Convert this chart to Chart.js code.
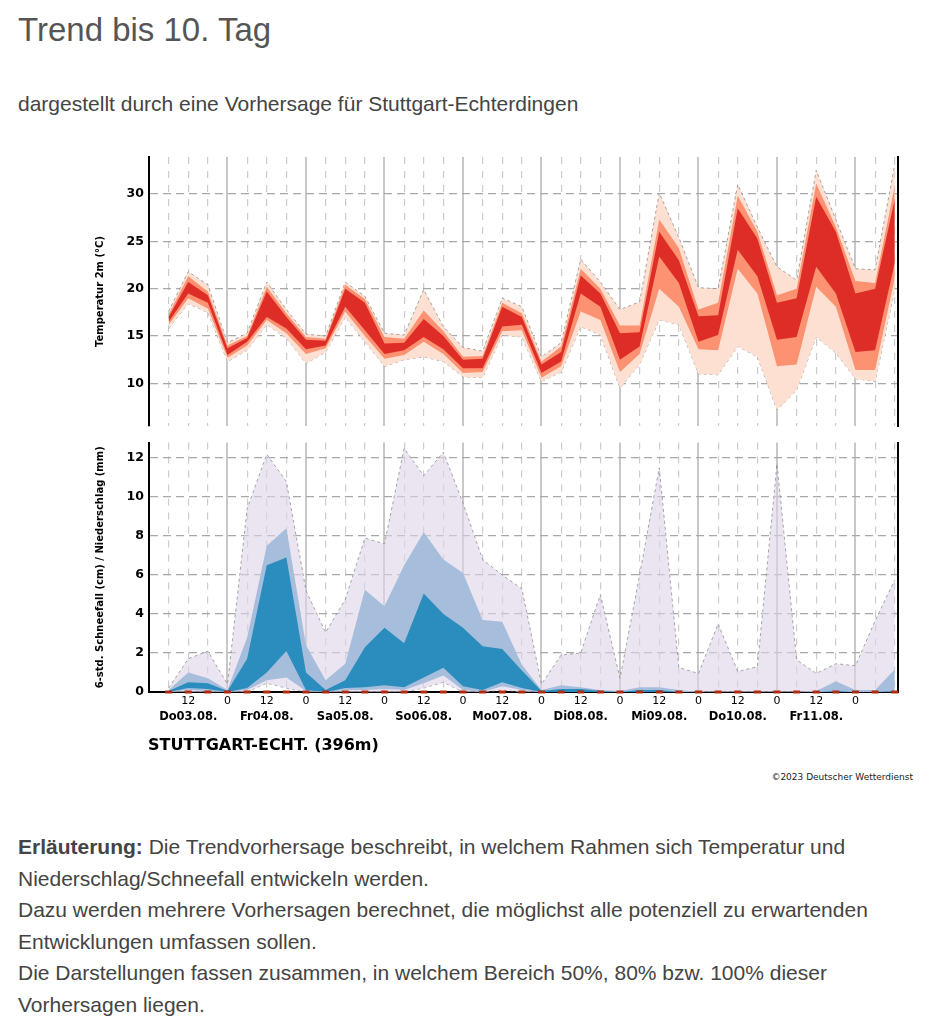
<!DOCTYPE html>
<html lang="de">
<head>
<meta charset="utf-8">
<title>Trend bis 10. Tag</title>
<script src="https://cdn.jsdelivr.net/npm/chart.js@4"></script>
<style>
  body { margin: 0; background: #fff; font-family: "Liberation Sans", Arial, sans-serif; }
  .page { position: relative; width: 929px; height: 1026px; overflow: hidden; }
  h1 { position: absolute; left: 18px; top: 11px; margin: 0; font-weight: normal; font-size: 33px; line-height: 38px; color: #555; }
  .sub { position: absolute; left: 18px; top: 92px; margin: 0; font-size: 21px; line-height: 24px; color: #444; }
  #tempChart { position: absolute; left: 0; top: 140px; }
  #precChart { position: absolute; left: 0; top: 430px; }
  .station { position: absolute; left: 148px; top: 735px; font: bold 16px "DejaVu Sans"; color: #000; }
  .copy { position: absolute; right: 16px; top: 772px; font: 9px "DejaVu Sans"; color: #222; }
  .info { position: absolute; left: 18px; top: 831px; margin: 0; width: 910px; font-size: 21px; line-height: 31.6px; color: #444; }
</style>
</head>
<body>
<div class="page">
  <h1>Trend bis 10. Tag</h1>
  <p class="sub">dargestellt durch eine Vorhersage für Stuttgart-Echterdingen</p>
  <canvas id="tempChart" width="929" height="300"></canvas>
  <canvas id="precChart" width="929" height="310"></canvas>
  <div class="station">STUTTGART-ECHT. (396m)</div>
  <div class="copy">©2023 Deutscher Wetterdienst</div>
  <p class="info"><b>Erläuterung:</b> Die Trendvorhersage beschreibt, in welchem Rahmen sich Temperatur und<br>Niederschlag/Schneefall entwickeln werden.<br>Dazu werden mehrere Vorhersagen berechnet, die möglichst alle potenziell zu erwartenden<br>Entwicklungen umfassen sollen.<br>Die Darstellungen fassen zusammen, in welchem Bereich 50%, 80% bzw. 100% dieser<br>Vorhersagen liegen.</p>
</div>
<script>
// forecast steps, hours after Do 03.08. 00 Uhr
const stepHours = [6, 12, 18, 24, 30, 36, 42, 48, 54, 60, 66, 72, 78, 84, 90, 96, 102, 108, 114,
  120, 126, 132, 138, 144, 150, 156, 162, 168, 174, 180, 186, 192, 198, 204, 210, 216, 222, 228];

// axis ticks and labels
const tempTicks = [10, 15, 20, 25, 30];
const precTicks = [0, 2, 4, 6, 8, 10, 12];
const hourTicks = [12, 24, 36, 48, 60, 72, 84, 96, 108, 120, 132, 144, 156, 168, 180, 192, 204, 216];
const dayTicks = [24, 48, 72, 96, 120, 144, 168, 192, 216];
const dayLabelPos = [12, 36, 60, 84, 108, 132, 156, 180, 204];
const dayLabels = ['Do03.08.', 'Fr04.08.', 'Sa05.08.', 'So06.08.', 'Mo07.08.', 'Di08.08.', 'Mi09.08.', 'Do10.08.', 'Fr11.08.'];

// Temperatur 2m (°C): 100%, 80%, 50% ranges
const tMax100 = [17.6, 21.8, 20.4, 14.3, 15.3, 20.7, 17.8, 15.2, 15.0, 20.7, 19.2, 15.3, 15.1, 19.9, 16.0, 13.8, 13.4, 19.0, 18.1,
  12.8, 14.3, 23.1, 20.7, 17.8, 18.6, 30.1, 25.4, 20.1, 20.0, 31.0, 26.5, 22.3, 20.9, 32.5, 27.3, 22.1, 22.0, 33.1];
const tMax80 = [17.3, 21.3, 19.7, 14.0, 15.0, 20.2, 17.4, 14.9, 14.7, 20.4, 18.9, 14.9, 14.7, 17.7, 15.5, 12.8, 12.9, 18.5, 17.4,
  12.3, 13.9, 22.1, 20.0, 16.1, 16.1, 27.3, 24.3, 17.8, 18.5, 29.8, 26.0, 19.3, 20.0, 31.1, 26.5, 20.8, 20.6, 30.8];
const tMax50 = [17.0, 20.7, 19.3, 13.7, 14.8, 19.7, 17.0, 14.6, 14.5, 20.0, 18.5, 14.2, 14.3, 16.8, 15.0, 12.5, 12.6, 18.1, 17.0,
  12.0, 13.3, 21.4, 19.5, 15.3, 15.4, 26.0, 23.0, 17.1, 17.2, 28.5, 25.3, 18.5, 19.0, 29.7, 26.0, 19.5, 20.0, 29.4];
const tMin50 = [16.5, 19.5, 18.5, 13.0, 14.4, 17.0, 15.8, 13.6, 14.0, 18.1, 15.6, 13.1, 13.5, 14.9, 13.6, 11.6, 11.6, 16.0, 16.2,
  11.1, 12.3, 19.5, 18.1, 12.5, 13.9, 23.4, 20.6, 14.4, 15.1, 24.1, 21.3, 14.6, 14.9, 22.3, 19.5, 13.3, 13.5, 22.7];
const tMin80 = [16.2, 19.0, 17.9, 12.7, 14.0, 16.7, 15.3, 13.1, 13.7, 17.6, 15.0, 12.6, 13.0, 14.4, 13.1, 11.1, 11.2, 15.5, 15.6,
  10.6, 11.8, 17.6, 16.7, 11.2, 13.1, 20.0, 18.1, 13.6, 13.5, 22.1, 19.5, 11.8, 12.0, 20.2, 18.1, 11.4, 11.4, 21.1];
const tMin100 = [15.8, 18.4, 17.5, 12.3, 13.5, 16.2, 14.8, 12.1, 13.3, 17.0, 14.4, 11.8, 12.5, 12.8, 12.3, 10.7, 10.6, 15.1, 14.9,
  10.2, 11.2, 16.0, 15.1, 9.5, 12.0, 16.7, 16.2, 11.0, 10.9, 13.9, 12.8, 7.2, 9.3, 14.9, 13.2, 10.5, 10.2, 19.9];

// 6-std. Niederschlag (mm): 100%, 80%, 50% ranges
const pMax = [0.2, 1.7, 2.1, 0.4, 9.4, 12.2, 10.8, 5.2, 3.05, 4.75, 7.9, 7.6, 12.5, 11.1, 12.3, 9.7, 6.8, 6.0, 5.3,
  0.4, 1.9, 2.0, 5.0, 0.7, 6.0, 11.5, 1.25, 0.95, 3.5, 1.05, 1.3, 11.7, 1.65, 0.95, 1.45, 1.35, 3.65, 5.75];
const p90 = [0.1, 1.0, 0.7, 0.1, 2.8, 7.5, 8.4, 2.4, 0.6, 1.45, 5.25, 4.4, 6.5, 8.2, 6.8, 6.1, 3.7, 3.6, 1.4,
  0.1, 0.35, 0.25, 0.1, 0.05, 0.25, 0.25, 0.1, 0, 0, 0, 0, 0, 0, 0.05, 0.55, 0.1, 0.1, 1.15];
const p75 = [0.05, 0.5, 0.45, 0.05, 1.7, 6.5, 6.9, 1.0, 0.1, 0.6, 2.3, 3.3, 2.5, 5.05, 4.0, 3.3, 2.35, 2.2, 1.1,
  0.05, 0.15, 0.15, 0.05, 0, 0.1, 0.1, 0, 0, 0, 0, 0, 0, 0, 0, 0.05, 0, 0, 0.05];
const p25 = [0, 0.2, 0.15, 0, 0.2, 1.0, 2.1, 0.1, 0, 0.2, 0.25, 0.35, 0.25, 0.75, 1.25, 0.3, 0.1, 0.5, 0.2,
  0, 0, 0, 0, 0, 0, 0, 0, 0, 0, 0, 0, 0, 0, 0, 0, 0, 0, 0];
const p10 = [0, 0.1, 0.05, 0, 0.1, 0.6, 0.75, 0.05, 0, 0.1, 0.1, 0.15, 0.1, 0.45, 0.85, 0.1, 0, 0.3, 0.1,
  0, 0, 0, 0, 0, 0, 0, 0, 0, 0, 0, 0, 0, 0, 0, 0, 0, 0, 0];
const pMin = [0, 0, 0, 0, 0, 0.45, 0.2, 0, 0, 0, 0, 0, 0, 0.2, 0.5, 0, 0, 0.1, 0,
  0, 0, 0, 0, 0, 0, 0, 0, 0, 0, 0, 0, 0, 0, 0, 0, 0, 0, 0];
// 6-std. Schneefall (cm)
const snow = [0, 0, 0, 0, 0, 0, 0, 0, 0, 0, 0, 0, 0, 0, 0, 0, 0, 0, 0,
  0, 0, 0, 0, 0, 0, 0, 0, 0, 0, 0, 0, 0, 0, 0, 0, 0, 0, 0];

Chart.defaults.font.family = '"DejaVu Sans", sans-serif';
Chart.defaults.color = '#000';
Chart.defaults.animation = false;

const X_MIN = 0, X_MAX = 229;

function toXY(values) {
  return values.map((v, i) => ({ x: stepHours[i], y: v }));
}

// upper line filled down to the lower line
function band(upper, lower, color, order, outline) {
  const line = outline
    ? { borderColor: '#8f8f8f', borderWidth: 0.8, borderDash: [3, 3] }
    : { borderWidth: 0 };
  return [
    Object.assign({ data: toXY(upper), fill: '+1', backgroundColor: color, pointRadius: 0, tension: 0, order: order }, line),
    Object.assign({ data: toXY(lower), fill: false, pointRadius: 0, tension: 0, order: order }, line)
  ];
}

function setTicks(list) {
  return scale => { scale.ticks = list.map(v => ({ value: v })); };
}

function timeScales(withLabels, z) {
  const scales = {
    x: {
      type: 'linear', min: X_MIN, max: X_MAX, weight: 0, z: z,
      afterBuildTicks: setTicks(stepHours),
      grid: {
        drawTicks: false, lineWidth: 1.2,
        color: ctx => (ctx.tick && ctx.tick.value % 24 === 0) ? 'rgba(0,0,0,0)' : '#cccccc'
      },
      border: withLabels ? { color: '#000', width: 2, dash: [7, 7] } : { display: false, dash: [7, 7] },
      ticks: {
        display: withLabels, autoSkip: false, maxRotation: 0, padding: 3,
        font: { size: 11 },
        callback: v => (hourTicks.includes(v) ? (v % 24 === 0 ? '0' : '12') : '')
      },
      afterFit: s => { s.height = withLabels ? 16 : 0; }
    },
    xd: {
      type: 'linear', min: X_MIN, max: X_MAX, weight: 1, z: z,
      afterBuildTicks: setTicks(dayTicks),
      grid: { drawTicks: false, color: '#c8c8c8', lineWidth: 2 },
      border: { display: false },
      ticks: { display: false },
      afterFit: s => { s.height = 0; }
    }
  };
  if (withLabels) {
    scales.xl = {
      type: 'linear', min: X_MIN, max: X_MAX, weight: 2,
      afterBuildTicks: setTicks(dayLabelPos),
      grid: { display: false, drawTicks: false },
      border: { display: false },
      ticks: {
        autoSkip: false, maxRotation: 0, padding: 2,
        font: { size: 11.5, weight: 'bold' },
        callback: v => dayLabels[dayLabelPos.indexOf(v)]
      },
      afterFit: s => { s.height = 20; }
    };
  }
  return scales;
}

function valueScale(min, max, ticks, title, z) {
  return {
    type: 'linear', position: 'left', min: min, max: max, z: z,
    afterBuildTicks: setTicks(ticks),
    grid: { drawTicks: false, color: '#a8a8a8', lineWidth: 1.3 },
    border: { color: '#000', width: 2, dash: [8, 5] },
    ticks: { padding: 5, font: { size: 12.5, weight: 'bold' } },
    title: { display: true, text: title, font: { size: 10, weight: 'bold' }, padding: { top: 94, bottom: 0 } },
    afterFit: s => { s.width = 149; }
  };
}

const rightEdge = {
  type: 'linear', position: 'right',
  grid: { display: false },
  border: { color: '#000', width: 2 },
  ticks: { display: false },
  afterFit: s => { s.width = 0; }
};

const tempScales = timeScales(false, 1);
tempScales.y = valueScale(5.5, 33.9, tempTicks, 'Temperatur 2m (°C)', 1);
tempScales.yR = rightEdge;

new Chart(document.getElementById('tempChart').getContext('2d'), {
  type: 'line',
  data: {
    datasets: [].concat(
      band(tMax50, tMin50, '#de2d26', 1, false),
      band(tMax80, tMin80, '#fc9272', 2, false),
      band(tMax100, tMin100, '#fde0d2', 3, true)
    )
  },
  options: {
    responsive: false,
    layout: { padding: { top: 17, right: 31, bottom: 14, left: 0 } },
    plugins: { legend: { display: false }, tooltip: { enabled: false } },
    scales: tempScales
  }
});

const precScales = timeScales(true, 0);
precScales.y = valueScale(0, 12.8, precTicks, '6-std. Schneefall (cm) / Niederschlag (mm)', 0);
precScales.yR = Object.assign({}, rightEdge);

new Chart(document.getElementById('precChart').getContext('2d'), {
  type: 'line',
  data: {
    datasets: [].concat(
      [{
        data: toXY(snow), showLine: false, clip: false, order: 0,
        pointStyle: 'line', pointRadius: 3.5, pointBorderWidth: 3,
        pointBorderColor: '#b02a10', pointBackgroundColor: '#b02a10'
      }],
      band(p75, p25, '#2b8cbe', 1, false),
      band(p90, p10, '#a6bddb', 2, false),
      band(pMax, pMin, 'rgba(222,212,234,0.6)', 3, true)
    )
  },
  options: {
    responsive: false,
    layout: { padding: { top: 10, right: 31, bottom: 12, left: 0 } },
    plugins: { legend: { display: false }, tooltip: { enabled: false } },
    scales: precScales
  }
});
</script>
</body>
</html>
